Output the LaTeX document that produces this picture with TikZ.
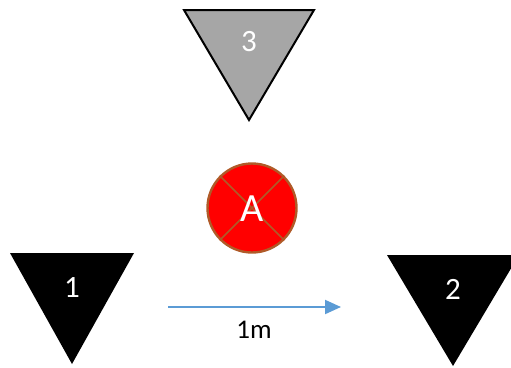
\documentclass[tikz,border=0pt]{standalone}
\usepackage{fontspec}
\setmainfont{Carlito}
\usetikzlibrary{arrows.meta}
\definecolor{tgray}{HTML}{A6A6A6}
\definecolor{brn}{HTML}{B05A28}
\definecolor{ablue}{HTML}{5B9BD5}
\begin{document}
\begin{tikzpicture}[x=1pt,y=-1pt,
  tri/.style={draw=black,line width=2pt,line join=miter},
  num/.style={text=white,font=\fontsize{31}{34}\selectfont,inner sep=0pt},
]
\useasboundingbox (0,0) rectangle (511,367);
\begin{scope}
\clip (0,0) rectangle (511,367);
% triangle 3
\draw[tri,fill=tgray] (184,10) -- (314,10) -- (249,120) -- cycle;
\node[num] (n3) at (249,42) {3};
% triangle 1
\fill[black] (10,253) -- (134,253) -- (72,364) -- cycle;
\node[num] (n1) at (72,288) {1};
% triangle 2
\fill[black] (387,255) -- (519,255) -- (453,366) -- cycle;
\node[num] (n2) at (453,289) {2};
\end{scope}
% circle A
\node[circle,draw=brn,line width=2.4pt,fill=red,minimum size=89pt,inner sep=0pt] (c) at (252,208) {};
\draw[brn,line width=1.5pt] (c.north west) -- (c.south east);
\draw[brn,line width=1.5pt] (c.north east) -- (c.south west);
\node[text=white,font=\fontsize{40}{44}\selectfont,inner sep=0pt] (a) at (252,209) {A};
% arrow
\coordinate (s) at (168,307);
\coordinate (e) at (341,307);
\draw[ablue,line width=2pt,-{Triangle[length=16pt,width=14pt]}] (s) -- (e);
\node[font=\fontsize{27}{30}\selectfont,inner sep=0pt] (lbl) at (254,330) {1m};
\end{tikzpicture}
\end{document}
